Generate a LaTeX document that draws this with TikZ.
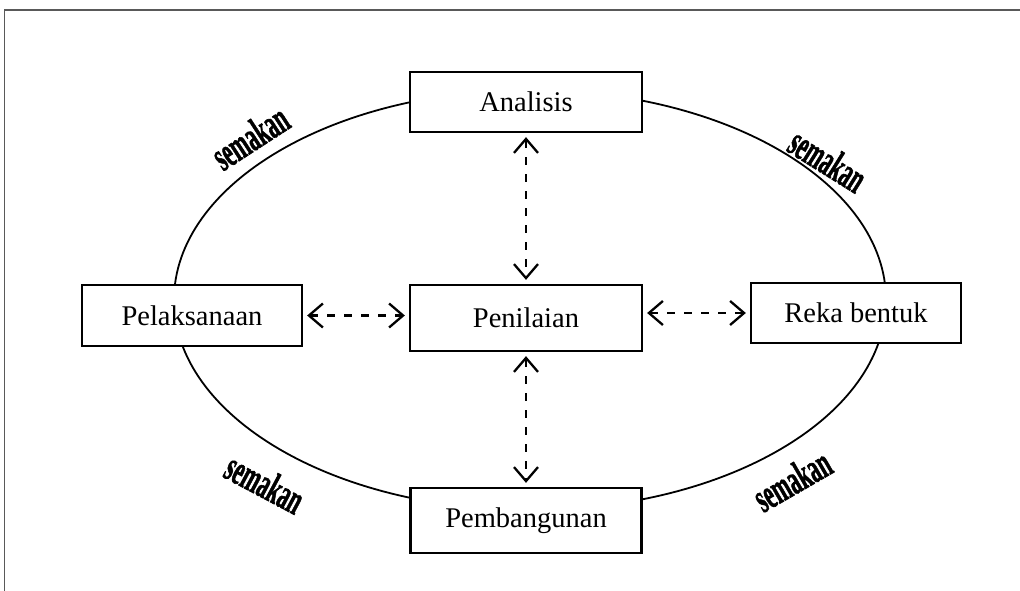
\documentclass[tikz,border=0pt]{standalone}
\usepackage{fontspec}
\setmainfont{Liberation Serif}
\newfontfamily\wordart[FakeBold=1.6]{Liberation Serif Bold}
\usetikzlibrary{arrows.meta}
\begin{document}
\begin{tikzpicture}[x=1pt,y=-1pt,
  stagebox/.style={draw,line width=2.3pt,fill=white,inner sep=0pt,
    font=\fontsize{28.5}{30}\selectfont},
  link/.style={line width=2.3pt,dash pattern=on 8pt off 9pt,
    {Straight Barb[length=14pt,width=24pt]}-{Straight Barb[length=14pt,width=24pt]},
    shorten <=4pt,shorten >=4pt},
  review/.style={inner sep=0pt,font=\fontsize{42}{42}\wordart}]
  \useasboundingbox (0,0) rectangle (1020,591);
  % page frame
  \draw[gray!70!black,line width=1.2pt] (4.5,591) -- (4.5,10) -- (1020,10);
  % cycle
  \draw[line width=1.8pt] (530,300) ellipse [x radius=356, y radius=210];
  % stages
  \node[stagebox,minimum width=232,minimum height=60] (ana) at (526,102) {Analisis};
  \node[stagebox,minimum width=220,minimum height=61] (pel) at (192,315.5) {Pelaksanaan};
  \node[stagebox,minimum width=232,minimum height=66] (pen) at (526,318) {Penilaian};
  \node[stagebox,minimum width=210,minimum height=60] (rek) at (856,313) {Reka bentuk};
  \node[stagebox,minimum width=231,minimum height=65] (pem) at (526,520.5) {Pembangunan};
  % evaluation links
  \draw[link] (ana.south) -- (pen.north);
  \draw[link] (pen.south) -- (pem.north);
  \draw[link] (pel.east) -- (pel.east -| pen.west);
  \draw[link] (rek.west -| pen.east) -- (rek.west);
  % review labels
  \node[review,rotate=33] (s1) at (250,137) {\scalebox{0.52}[1]{semakan}};
  \node[review,rotate=-32] (s2) at (828,160) {\scalebox{0.52}[1]{semakan}};
  \node[review,rotate=-28] (s3) at (265,483) {\scalebox{0.52}[1]{semakan}};
  \node[review,rotate=30] (s4) at (792,480) {\scalebox{0.52}[1]{semakan}};
\end{tikzpicture}
\end{document}
